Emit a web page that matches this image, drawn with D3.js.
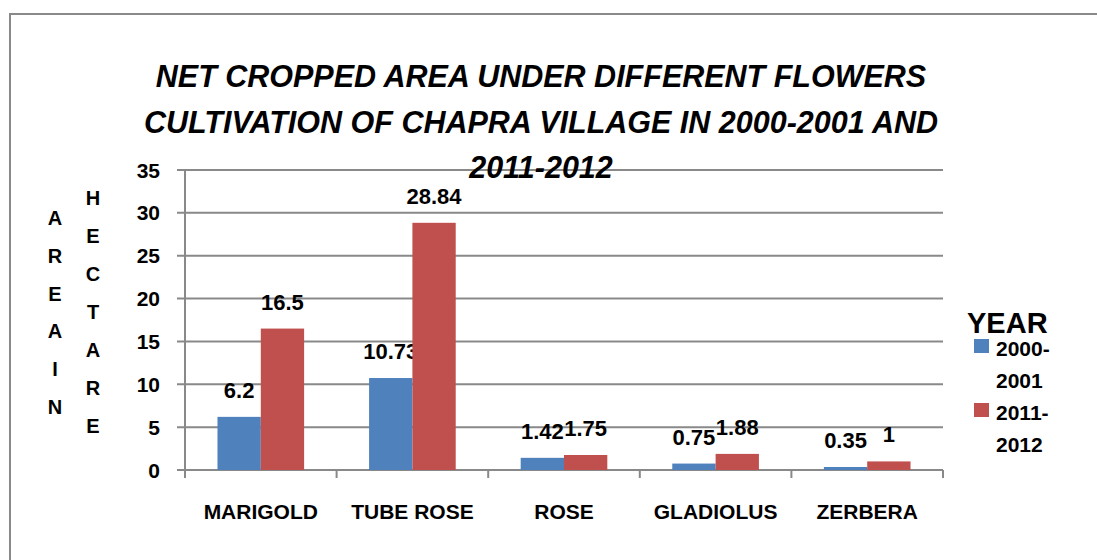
<!DOCTYPE html>
<html lang="en">
<head>
<meta charset="utf-8">
<title>Net cropped area</title>
<script src="https://cdn.jsdelivr.net/npm/d3@7"></script>
<style>
  body { margin: 0; background: #fff; }
  text { font-family: "Liberation Sans", Arial, sans-serif; font-weight: bold; fill: #000; }
</style>
</head>
<body>
<script>
// data
var flowers = ["MARIGOLD", "TUBE ROSE", "ROSE", "GLADIOLUS", "ZERBERA"];
var years = ["2000-2001", "2011-2012"];
var area2000 = [6.2, 10.73, 1.42, 0.75, 0.35];
var area2011 = [16.5, 28.84, 1.75, 1.88, 1];
var yTicks = [0, 5, 10, 15, 20, 25, 30, 35];
var titleLines = ["NET CROPPED AREA UNDER DIFFERENT FLOWERS",
                  "CULTIVATION OF CHAPRA VILLAGE IN 2000-2001 AND",
                  "2011-2012"];
var colors = ["#4F81BD", "#C0504D"];

var w = 1097, h = 560;
// plot area edges (note: "top" is reserved on window, so pX names)
var pLeft = 185, pRight = 943, pTop = 170, pBottom = 470;

var svg = d3.select("body").append("svg")
    .attr("width", w)
    .attr("height", h);

// outer border
svg.append("rect")
    .attr("x", 10).attr("y", 14)
    .attr("width", 1100).attr("height", 560)
    .attr("fill", "none")
    .attr("stroke", "#898989")
    .attr("stroke-width", 2);

var x0 = d3.scaleBand().domain(flowers).range([pLeft, pRight]);
var bw = x0.bandwidth() / 3.5;
var y = d3.scaleLinear().domain([0, 35]).range([pBottom, pTop]);

// gridlines
svg.selectAll("line.grid")
    .data(yTicks)
    .enter().append("line")
    .attr("class", "grid")
    .attr("x1", pLeft - 8).attr("x2", pRight)
    .attr("y1", function (d) { return y(d); })
    .attr("y2", function (d) { return y(d); })
    .attr("stroke", "#898989")
    .attr("stroke-width", 2);

// y axis line
svg.append("line")
    .attr("x1", pLeft).attr("x2", pLeft)
    .attr("y1", pTop).attr("y2", pBottom + 1)
    .attr("stroke", "#898989").attr("stroke-width", 2);

// category ticks
svg.selectAll("line.ctick")
    .data(flowers.concat(["end"]))
    .enter().append("line")
    .attr("class", "ctick")
    .attr("x1", function (d, i) { return pLeft + i * x0.bandwidth(); })
    .attr("x2", function (d, i) { return pLeft + i * x0.bandwidth(); })
    .attr("y1", pBottom).attr("y2", pBottom + 8)
    .attr("stroke", "#898989").attr("stroke-width", 2);

// y tick labels
svg.selectAll("text.ylab")
    .data(yTicks)
    .enter().append("text")
    .attr("class", "ylab")
    .attr("x", 160)
    .attr("y", function (d) { return y(d) + 7.5; })
    .attr("text-anchor", "end")
    .style("font-size", "21px")
    .text(function (d) { return d; });

// bars
var series = [area2000, area2011];
series.forEach(function (vals, s) {
    svg.selectAll("rect.bar" + s)
        .data(vals)
        .enter().append("rect")
        .attr("class", "bar" + s)
        .attr("x", function (d, i) { return x0(flowers[i]) + 0.75 * bw + s * bw; })
        .attr("y", function (d) { return y(d); })
        .attr("width", bw)
        .attr("height", function (d) { return pBottom - y(d); })
        .attr("fill", colors[s]);

    svg.selectAll("text.val" + s)
        .data(vals)
        .enter().append("text")
        .attr("class", "val" + s)
        .attr("x", function (d, i) { return x0(flowers[i]) + 0.75 * bw + s * bw + bw / 2; })
        .attr("y", function (d) { return y(d) - 19; })
        .attr("text-anchor", "middle")
        .style("font-size", "22px")
        .text(function (d) { return d; });
});

// category labels
svg.selectAll("text.cat")
    .data(flowers)
    .enter().append("text")
    .attr("class", "cat")
    .attr("x", function (d) { return x0(d) + x0.bandwidth() / 2; })
    .attr("y", 519)
    .attr("text-anchor", "middle")
    .style("font-size", "21px")
    .text(function (d) { return d; });

// title
svg.selectAll("text.title")
    .data(titleLines)
    .enter().append("text")
    .attr("class", "title")
    .attr("x", 541)
    .attr("y", function (d, i) { return 87 + i * 45.5; })
    .attr("text-anchor", "middle")
    .style("font-size", "30.5px")
    .style("font-style", "italic")
    .text(function (d) { return d; });

// stacked axis titles
var areaIn = "AREAIN".split("");
var hectare = "HECTARE".split("");
svg.selectAll("text.a1")
    .data(areaIn)
    .enter().append("text")
    .attr("class", "a1")
    .attr("x", 55)
    .attr("y", function (d, i) { return 225 + i * 37.8; })
    .attr("text-anchor", "middle")
    .style("font-size", "20px")
    .text(function (d) { return d; });
svg.selectAll("text.a2")
    .data(hectare)
    .enter().append("text")
    .attr("class", "a2")
    .attr("x", 93)
    .attr("y", function (d, i) { return 205 + i * 38; })
    .attr("text-anchor", "middle")
    .style("font-size", "20px")
    .text(function (d) { return d; });

// legend
svg.append("text")
    .attr("x", 967).attr("y", 333)
    .style("font-size", "29px")
    .text("YEAR");
years.forEach(function (yr, i) {
    var parts = yr.split("-");
    var ly = 339 + i * 64;
    svg.append("rect")
        .attr("x", 974).attr("y", ly)
        .attr("width", 15).attr("height", 14)
        .attr("fill", colors[i]);
    svg.append("text")
        .attr("x", 996).attr("y", ly + 17)
        .style("font-size", "21px")
        .text(parts[0] + "-");
    svg.append("text")
        .attr("x", 996).attr("y", ly + 49)
        .style("font-size", "21px")
        .text(parts[1]);
});
</script>
</body>
</html>
